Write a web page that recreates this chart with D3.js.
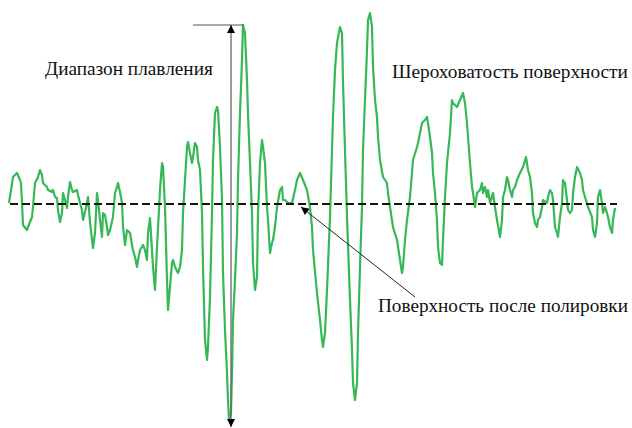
<!DOCTYPE html>
<html>
<head>
<meta charset="utf-8">
<script src="https://cdn.jsdelivr.net/npm/d3@7"></script>
<style>
  html, body { margin: 0; padding: 0; background: #fff; }
  svg { display: block; }
  .label { font-family: "Liberation Serif", "Times New Roman", "DejaVu Serif", serif; fill: #111; }
</style>
</head>
<body>
<svg id="chart" width="632" height="428"></svg>
<script>
// Surface profile: position along the trace and height relative to the polished level
const profileX = [
  9,13,17,20,21,22,23,27,28,32,33,35,38,40,42,43,47,48,52,53,55,57,58,60,62,63,65,67,68,70,
  72,73,77,78,80,82,83,85,87,88,90,92,93,95,97,98,100,102,103,105,107,108,110,113,115,117,118,120,122,123,
  125,127,130,132,133,135,137,138,140,143,145,147,148,150,153,155,157,160,162,163,165,167,168,170,172,173,175,178,180,182,
  183,185,187,188,190,192,193,195,197,198,200,202,203,205,207,208,210,212,213,215,217,218,220,222,223,225,227,228,229,231,
  232,233,235,237,238,240,242,243,245,247,248,250,252,253,255,257,258,260,262,263,265,267,268,270,272,273,275,277,280,282,
  283,285,288,292,295,297,300,303,307,310,312,313,317,320,322,323,325,327,330,332,333,335,337,340,342,343,345,347,350,352,
  353,355,357,358,360,362,363,365,367,368,370,372,373,375,377,378,380,383,387,388,390,393,397,400,402,403,405,407,410,412,
  413,417,418,420,422,425,427,428,430,432,433,435,437,438,440,442,443,445,447,450,452,453,457,460,463,465,467,468,470,472,
  473,475,477,480,482,483,485,487,488,490,493,495,497,500,502,503,505,507,508,510,512,513,515,517,520,523,526,528,530,532,
  533,535,537,538,540,542,543,547,548,550,552,553,555,557,558,560,562,563,565,567,568,570,572,573,575,577,580,582,583,585,
  588,592,593,595,597,598,600,602,603,605,607,608,610,612,613,615
];
const profileH = [
  1,27,31,24,21,1,-21,-26,-23,-13,-3,21,27,34,29,21,17,14,12,14,7,6,-6,-18,-9,11,4,-4,7,22,
  14,12,14,9,1,-6,-16,-8,1,7,-18,-36,-44,-29,11,4,-16,-33,-9,-11,-23,-31,-26,-13,11,17,21,12,1,-23,
  -41,-26,-29,-41,-46,-53,-63,-56,-46,-41,-46,-56,-29,-14,-63,-86,-43,14,41,37,-3,-76,-106,-83,-59,-56,-63,-69,-63,-46,
  -9,24,57,62,51,41,47,61,57,44,34,-9,-63,-136,-156,-143,-93,-9,44,91,97,94,57,4,-69,-126,-169,-196,-216,-209,
  -169,-116,-76,-29,24,91,144,179,171,124,91,41,-9,-59,-86,-73,-9,41,64,57,41,-3,-16,-49,-39,-36,-23,-3,14,17,
  4,4,1,1,14,24,31,24,14,-3,-23,-46,-89,-116,-136,-143,-129,-86,-13,54,87,134,161,177,171,121,54,-13,-96,-146,
  -179,-196,-179,-129,-63,-3,54,104,154,184,191,177,137,104,87,67,44,27,21,11,-3,-23,-36,-56,-69,-63,-36,-16,7,31,
  44,57,61,71,81,84,87,81,67,51,31,11,-16,-43,-59,-61,-36,7,41,71,104,101,97,104,111,101,81,67,41,17,
  11,-3,11,14,21,11,17,7,14,1,11,-3,-16,-33,-16,7,14,27,24,14,7,14,17,24,31,37,47,34,27,11,
  -9,-19,-23,-16,-13,-3,4,1,7,14,11,4,-23,-29,-33,-13,1,24,21,4,-6,-9,-6,11,27,37,31,24,14,7,
  -3,-13,-26,-33,-19,7,14,1,-9,-3,-9,-13,-23,-29,-16,-4
];

// Reference level and the melting range bounds (min / max height)
const baselineH = 0;
const baselineSpan = [10, 617];
const meltRange = [-222, 179];
const meltX = 231;

// Labels
const labels = [
  { text: "Диапазон плавления", x: 45, y: 75, width: 168 },
  { text: "Шероховатость поверхности", x: 392, y: 78, width: 236 },
  { text: "Поверхность после полировки", x: 378, y: 312, width: 250 }
];

const svg = d3.select("#chart");

const x = d3.scaleLinear().domain([0, 632]).range([0, 632]);
const y = d3.scaleLinear().domain([-220, 180]).range([424, 24]);

const defs = svg.append("defs");
defs.append("marker")
  .attr("id", "tri")
  .attr("viewBox", "0 0 10 10")
  .attr("refX", 10).attr("refY", 5)
  .attr("markerWidth", 10).attr("markerHeight", 8)
  .attr("markerUnits", "userSpaceOnUse")
  .attr("orient", "auto-start-reverse")
  .append("path")
  .attr("d", "M0,0 L10,5 L0,10 Z")
  .attr("fill", "#000");

// Roughness profile
const data = profileX.map((d, i) => ({ x: d, h: profileH[i] }));
const line = d3.line().x(d => x(d.x)).y(d => y(d.h));

svg.append("path")
  .datum(data)
  .attr("d", line)
  .attr("fill", "none")
  .attr("stroke", "#35b855")
  .attr("stroke-width", 2.2)
  .attr("stroke-linejoin", "round");

// Polished surface level
svg.append("line")
  .attr("x1", x(baselineSpan[0])).attr("x2", x(baselineSpan[1]))
  .attr("y1", y(baselineH)).attr("y2", y(baselineH))
  .attr("stroke", "#1a120a")
  .attr("stroke-width", 2)
  .attr("stroke-dasharray", "8,4");

// Melting range: horizontal tick at the peak and double-headed vertical arrow
svg.append("line")
  .attr("x1", 193).attr("x2", x(244))
  .attr("y1", y(meltRange[1])).attr("y2", y(meltRange[1]))
  .attr("stroke", "#555").attr("stroke-width", 1.2);

svg.append("line")
  .attr("x1", x(meltX)).attr("x2", x(meltX))
  .attr("y1", y(meltRange[0]) + 1).attr("y2", y(meltRange[1]))
  .attr("stroke", "#666").attr("stroke-width", 1.3)
  .attr("marker-start", "url(#tri)")
  .attr("marker-end", "url(#tri)");

// Pointer to the polished surface level
svg.append("line")
  .attr("x1", 415).attr("y1", 297)
  .attr("x2", 301).attr("y2", y(baselineH) + 3)
  .attr("stroke", "#222").attr("stroke-width", 1)
  .attr("marker-end", "url(#tri)");

// Text labels, sized to their set widths
labels.forEach(l => {
  const t = svg.append("text")
    .attr("class", "label")
    .attr("x", l.x).attr("y", l.y)
    .attr("font-size", 16)
    .text(l.text);
  const w = t.node().getComputedTextLength();
  t.attr("font-size", (16 * l.width / w).toFixed(2));
});
</script>
</body>
</html>
